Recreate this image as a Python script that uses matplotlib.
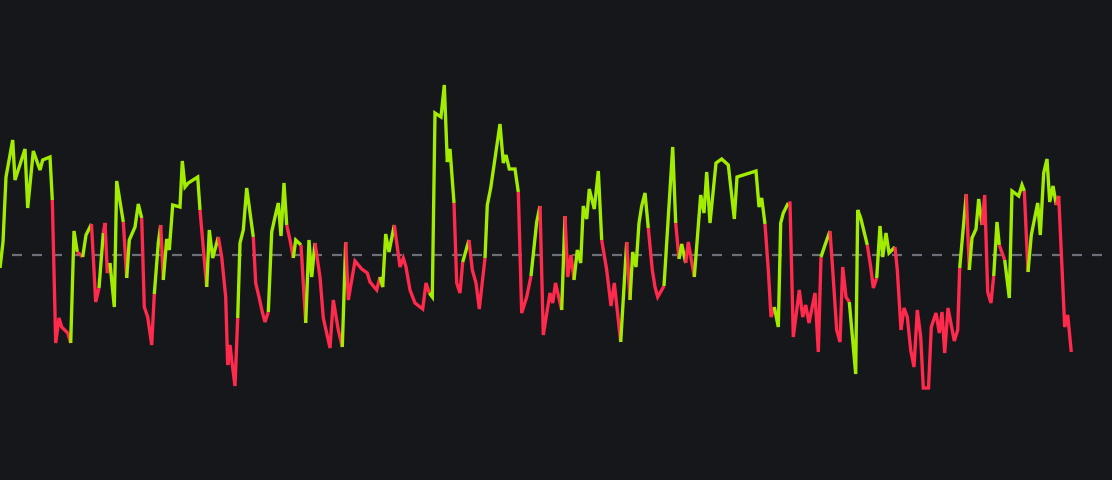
import matplotlib
matplotlib.use("Agg")
import matplotlib.pyplot as plt

plt.rcParams["lines.scale_dashes"] = False

# time axis (sample positions) and oscillator values; 0 = neutral level
t = [0, 3, 6, 12.7, 15, 25, 27.7, 33.3, 40, 42.7,
     50, 52.3, 55.7, 59, 61.7, 67.7, 70.7, 74, 77.3, 82.7,
     86, 91.5, 95.7, 99, 103.3, 105, 107.3, 110, 114.3, 116.7,
     123.3, 126.7, 129.3, 135, 138.3, 141.7, 144.3, 147.7, 151.7, 154.3,
     158.3, 160.7, 163.3, 166.7, 169.3, 172.7, 180, 182.3, 185, 188.3,
     197.7, 200, 206.7, 209.3, 212.7, 218.3, 221.7, 225.7, 227.7, 230,
     231.7, 235, 237.7, 240, 243.3, 246.7, 253.3, 255.7, 259, 262.3,
     265, 268.3, 271.7, 275, 278.3, 281, 284, 286.7, 290, 293.3,
     295.7, 301, 305.7, 309, 311.7, 315, 320, 323.3, 330, 333.3,
     338.3, 342.3, 345.7, 348.3, 355, 361.7, 367.3, 370, 376.7, 380,
     382.7, 385.7, 389, 394.3, 400, 403.3, 406, 410, 415, 422.7,
     426, 429.3, 432.3, 435, 441, 444.3, 447.3, 450, 454, 456.7,
     460, 462.7, 469, 472.3, 476, 479.3, 485, 487.3, 490.7, 500,
     503.3, 506, 509.3, 515, 518.3, 521.7, 526.7, 531, 536.7, 540,
     543.3, 550, 552.7, 555.5, 561.7, 565, 567.7, 571, 574, 577.3,
     580.7, 583.3, 586.7, 589.3, 594.3, 598.3, 601.7, 606.7, 611, 614.3,
     620.7, 626.7, 630, 632.7, 636, 639, 641.7, 645, 648.3, 652.3,
     655, 657.7, 664, 668.3, 672.7, 675.7, 679, 681.7, 685.7, 688.3,
     694.3, 700.7, 704, 706.7, 710, 716, 721.7, 728.3, 734.3, 737,
     756, 759, 761.7, 765, 768.3, 771, 774.3, 778.3, 780.7, 783.3,
     788.3, 790, 793.3, 799.3, 802.7, 805.7, 809, 815, 818.3, 821,
     825, 830, 832.7, 836.7, 840, 842.7, 846, 849.3, 855.7, 857.7,
     860.7, 867.3, 870.7, 873.3, 876.7, 880, 882.7, 886, 889, 895,
     897.3, 901, 904, 907.3, 910.7, 914, 917.3, 920.7, 923.3, 928.5,
     931.3, 936, 939.3, 942, 944.7, 948, 954.3, 957.7, 959.7, 966.3,
     969.3, 972, 976, 978.7, 982, 984.7, 987.7, 991, 993.7, 997,
     999.3, 1004.7, 1009.3, 1012, 1018.7, 1022, 1024.3, 1028, 1031.3, 1037.7,
     1040.3, 1043.7, 1047, 1049.7, 1053, 1056.3, 1058.7, 1064.7, 1067.7, 1071.3]

values = [-13, 13, 78, 115, 75, 106, 47, 104, 85, 95,
          98, 55, -88, -63, -72, -78, -88, 24, 3, -2,
          20, 31, -47, -33, 22, 32, -18, -8, -52, 74,
          33, -23, 15, 28, 51, 37, -52, -62, -90, -39,
          12, 30, -25, 16, 5, 50, 48, 94, 68, 72,
          78, 45, -32, 25, -3, 18, -2, -42, -110, -90,
          -105, -131, -63, 12, 25, 67, 18, -28, -42, -57,
          -67, -57, 23, 38, 52, 19, 72, 30, 15, -3,
          15, 10, -68, 15, -22, 12, -22, -63, -93, -45,
          -75, -92, 13, -45, -6, -14, -18, -27, -35, -22,
          -32, 21, 3, 30, -12, -3, -12, -35, -48, -54,
          -28, -38, -42, 142, 138, 170, 93, 106, 52, -28,
          -38, -7, 15, -15, -28, -54, -3, 50, 67, 131,
          92, 100, 86, 86, 63, -58, -42, -21, 33, 49,
          -80, -38, -48, -28, -55, 39, -22, 0, -25, 5,
          -8, 49, 36, 66, 46, 84, 15, -15, -51, -28,
          -87, 13, -45, 3, -12, 32, 49, 62, 27, -15,
          -32, -42, -31, 38, 108, 32, -4, 11, -8, 13,
          -22, 60, 42, 83, 32, 92, 96, 90, 36, 78,
          84, 48, 57, 31, -15, -62, -52, -72, 32, 42,
          52, 52, -82, -35, -62, -50, -68, -38, -97, -2,
          10, 24, -15, -75, -87, -12, -42, -47, -119, 45,
          37, 10, -12, -33, -23, 29, -2, 22, 2, 8,
          -15, -75, -53, -62, -95, -112, -55, -82, -133, -133,
          -72, -58, -78, -57, -98, -53, -86, -75, -13, 61,
          -15, 17, 26, 56, 30, 60, -37, -48, -21, 33,
          10, -5, -43, 64, 59, 70, 64, -17, 20, 52,
          20, 82, 96, 53, 69, 50, 59, -72, -60, -97]

# trend state of the segment ending at each sample: g = bullish, r = bearish
state = ("gggggggggg" "ggrrrrrggr" "ggrrgrrrgg" "grggggrrrr" "ggrggggggg"
         "ggrgggrrrr" "rrrggggrrr" "rrggggggrr" "ggrgggrrrr" "rrgrrrrrrr"
         "ggggrrrrrr" "rrgggggggr" "rrgrrrrggg" "gggggrrrgg" "rrrrrgrrrg"
         "gggggggrrr" "rgrggggggr" "rrrgggrggr" "rggggggggg" "ggggrrrggg"
         "grrrrrrrrr" "ggrrrrrrgg" "ggrrrggggg" "rrrrrrrrrr" "rrrrrrrrrg"
         "rggggrrrrg" "grgggggrgg" "ggggggrrrr")

colors = {"g": "#a2ec00", "r": "#ff2a4c"}
bg = "#16171b"

fig = plt.figure(figsize=(11.12, 4.8), dpi=100, facecolor=bg)
ax = fig.add_axes([0, 0, 1, 1])
ax.set_facecolor(bg)
ax.set_xlim(0, 1112)
ax.set_ylim(-225, 255)
ax.axis("off")

# neutral level
ax.axhline(0, xmin=12 / 1112, xmax=1102 / 1112, color="#6c7079", lw=1.6,
           dashes=(7.2, 7.2), zorder=1)

# colored runs
n = len(t)
i = 1
while i < n:
    c = state[i]
    j = i
    while j + 1 < n and state[j + 1] == c:
        j += 1
    ax.plot(t[i - 1:j + 1], values[i - 1:j + 1], color=colors[c], lw=2.4,
            solid_joinstyle="miter", solid_capstyle="butt", zorder=3)
    i = j + 1

fig.savefig("out.png", dpi=100, facecolor=bg)
